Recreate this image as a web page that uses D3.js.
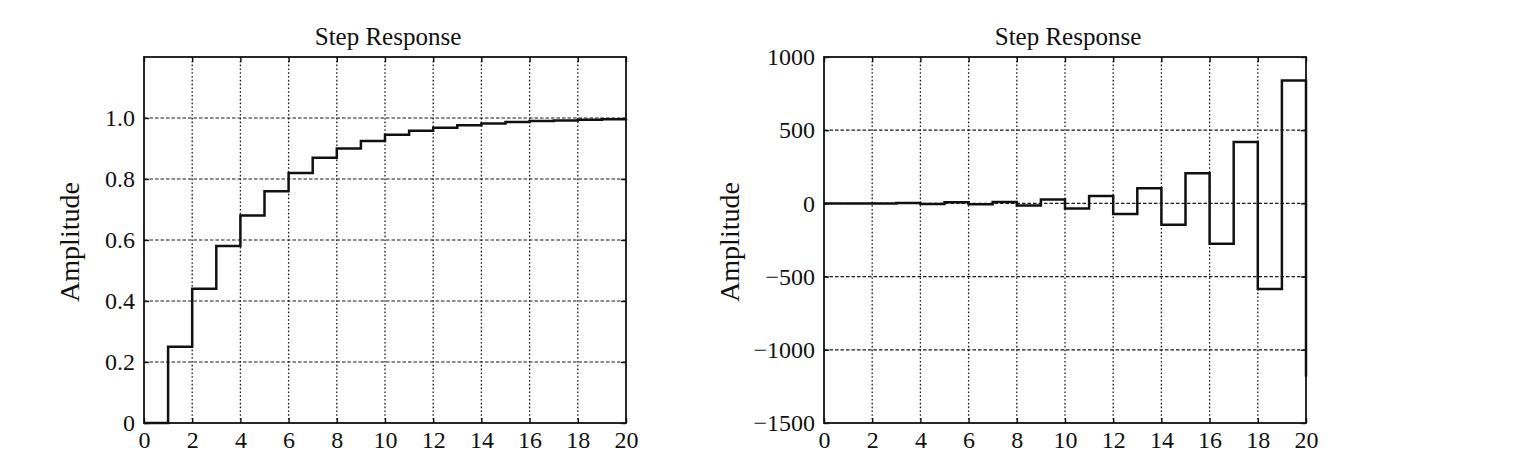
<!DOCTYPE html>
<html>
<head>
<meta charset="utf-8">
<script src="https://cdn.jsdelivr.net/npm/d3@7"></script>
<style>
  body { margin: 0; background: #fff; }
  svg text { font-family: "Liberation Serif", "DejaVu Serif", serif; fill: #111; }
</style>
</head>
<body>
<script>
    // sample index k (sample time 1 s)
    var sampleK = [0, 1, 2, 3, 4, 5, 6, 7, 8, 9, 10, 11, 12, 13, 14, 15, 16, 17, 18, 19, 20];

    // left plot: stable step response
    var stableAmp = [0, 0.25, 0.44, 0.58, 0.68, 0.76, 0.82, 0.87, 0.90, 0.925, 0.945,
                     0.958, 0.968, 0.976, 0.982, 0.987, 0.99, 0.992, 0.994, 0.996, 0.997];

    // right plot: unstable oscillating step response
    var unstableAmp = [0, 0, -1, 2, -4, 8, -6, 10, -14, 27, -35,
                       50, -72, 104, -145, 206, -275, 420, -585, 839, -1183];

    var xTicks = [0, 2, 4, 6, 8, 10, 12, 14, 16, 18, 20];
    var stableTicks = [0, 0.2, 0.4, 0.6, 0.8, 1.0];
    var stableTickLabels = ["0", "0.2", "0.4", "0.6", "0.8", "1.0"];
    var unstableTicks = [-1500, -1000, -500, 0, 500, 1000];
    var unstableTickLabels = ["\u22121500", "\u22121000", "\u2212500", "0", "500", "1000"];

    var svg = d3.select("body").append("svg")
                .attr("width", 1530)
                .attr("height", 460);

    svg.append("rect").attr("width", 1530).attr("height", 460).attr("fill", "#fff");

    var stepPlot = function(box, values, yDomain, yTicks, yLabels, labelX) {

        var xScale = d3.scaleLinear().domain([0, 20]).range([0, box.w]);
        var yScale = d3.scaleLinear().domain(yDomain).range([box.h, 0]);

        var g = svg.append("g")
                   .attr("transform", "translate(" + box.x + "," + box.y + ")");

        // dotted grid, skipping lines that sit on the frame
        var innerX = xTicks.filter(function(t) { return t > 0 && t < 20; });
        var innerY = yTicks.filter(function(t) { return t > yDomain[0] && t < yDomain[1]; });

        g.append("g")
         .selectAll("line")
         .data(innerX)
         .enter().append("line")
         .attr("x1", function(d) { return xScale(d); })
         .attr("x2", function(d) { return xScale(d); })
         .attr("y1", 0)
         .attr("y2", box.h)
         .attr("stroke", "#1a1a1a")
         .attr("stroke-width", 1.3)
         .attr("stroke-dasharray", "1.6,2.2");

        g.append("g")
         .selectAll("line")
         .data(innerY)
         .enter().append("line")
         .attr("x1", 0)
         .attr("x2", box.w)
         .attr("y1", function(d) { return yScale(d); })
         .attr("y2", function(d) { return yScale(d); })
         .attr("stroke", "#1a1a1a")
         .attr("stroke-width", 1.2)
         .attr("stroke-dasharray", "3.5,2");

        // axes with inward ticks on all four sides
        g.append("g")
         .attr("class", "x axis")
         .attr("transform", "translate(0," + box.h + ")")
         .call(d3.axisBottom(xScale).tickValues(xTicks).tickSize(-5).tickPadding(8)
               .tickFormat(function(d) { return d; }))
         .call(function(a) { a.select(".domain").remove(); })
         .selectAll("text")
         .style("font-size", "24px");

        g.append("g")
         .call(d3.axisTop(xScale).tickValues(xTicks).tickSize(-5).tickFormat(""))
         .call(function(a) { a.select(".domain").remove(); });

        g.append("g")
         .attr("class", "y axis")
         .call(d3.axisLeft(yScale).tickValues(yTicks).tickSize(-5).tickPadding(9)
               .tickFormat(function(d, i) { return yLabels[i]; }))
         .call(function(a) { a.select(".domain").remove(); })
         .selectAll("text")
         .style("font-size", "24px");

        g.append("g")
         .attr("transform", "translate(" + box.w + ",0)")
         .call(d3.axisRight(yScale).tickValues(yTicks).tickSize(-5).tickFormat(""))
         .call(function(a) { a.select(".domain").remove(); });

        g.selectAll(".tick line").attr("stroke", "#111").attr("stroke-width", 1.4);

        // step response line
        var stepLine = d3.line()
                         .x(function(d, i) { return xScale(sampleK[i]); })
                         .y(function(d) { return yScale(d); })
                         .curve(d3.curveStepAfter);

        g.append("path")
         .datum(values)
         .attr("d", stepLine)
         .attr("fill", "none")
         .attr("stroke", "#111")
         .attr("stroke-width", 2.5);

        // frame
        g.append("rect")
         .attr("width", box.w)
         .attr("height", box.h)
         .attr("fill", "none")
         .attr("stroke", "#111")
         .attr("stroke-width", 1.8);

        svg.append("text")
           .attr("x", box.x + box.w / 2 + 3)
           .attr("y", 45)
           .attr("text-anchor", "middle")
           .style("font-size", "25px")
           .text("Step Response");

        svg.append("text")
           .attr("transform", "translate(" + labelX + "," + (box.y + box.h / 2 + 2) + ") rotate(-90)")
           .attr("text-anchor", "middle")
           .style("font-size", "28px")
           .text("Amplitude");
    }

    stepPlot({x: 144, y: 57, w: 482, h: 366}, stableAmp, [0, 1.2],
             stableTicks, stableTickLabels, 79);
    stepPlot({x: 824, y: 57, w: 482, h: 366}, unstableAmp, [-1500, 1000],
             unstableTicks, unstableTickLabels, 739);
</script>
</body>
</html>
